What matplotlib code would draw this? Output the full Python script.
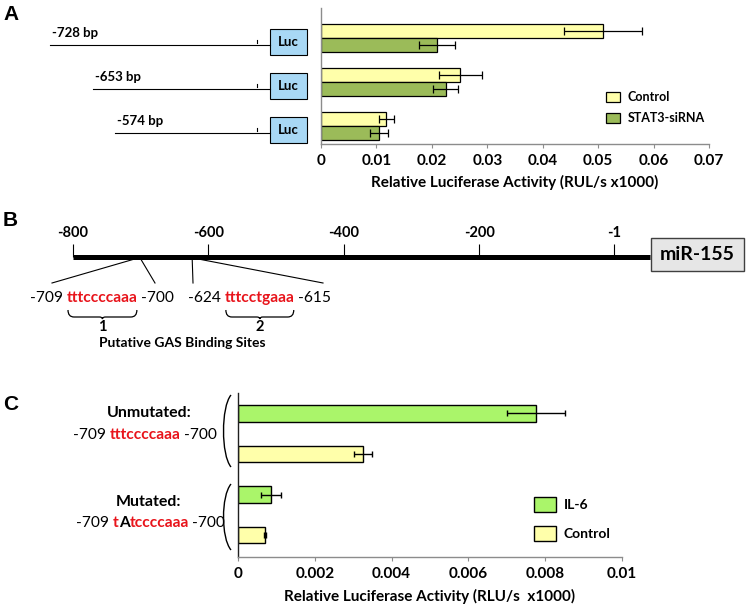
import matplotlib
matplotlib.use("Agg")
import matplotlib.pyplot as plt
from matplotlib.patches import Rectangle, PathPatch
from matplotlib.path import Path
import numpy as np

plt.rcParams["font.family"] = ["Lato", "DejaVu Sans"]

W, H = 748, 607

# ---- panel A: promoter deletion constructs
a_constructs  = ["-728 bp", "-653 bp", "-574 bp"]
a_series      = ["Control", "STAT3-siRNA"]
a_control     = [0.0509, 0.0251, 0.0118]
a_control_err = [0.0070, 0.0039, 0.0013]
a_sirna       = [0.0209, 0.0225, 0.0105]
a_sirna_err   = [0.0033, 0.0023, 0.0016]
a_ticks       = [0, 0.01, 0.02, 0.03, 0.04, 0.05, 0.06, 0.07]

# ---- panel B: promoter map
b_ticks = [-800, -600, -400, -200, -1]
b_sites = [(-709, -700, "tttccccaaa"), (-624, -615, "tttcctgaaa")]
b_site_names = ["1", "2"]

# ---- panel C: GAS site mutation
c_groups      = ["Unmutated:", "Mutated:"]
c_series      = ["IL-6", "Control"]
c_il6         = [0.00776, 0.00086]
c_il6_err     = [0.00076, 0.00025]
c_control     = [0.00326, 0.00070]
c_control_err = [0.00024, 0.00003]
c_ticks       = [0, 0.002, 0.004, 0.006, 0.008, 0.01]

YELLOW = "#FFFFAA"
OLIVE  = "#9BBB59"
LIME   = "#AAF56A"
BLUE   = "#A8D8F5"
RED    = "#E8141B"
GRAYSP = "#8C8C8C"
SEQ_FS = 11.2

fig = plt.figure(figsize=(W / 100, H / 100), dpi=100)


def px_axes(x0, y0, x1, y1, **kw):
    return fig.add_axes([x0 / W, 1 - y1 / H, (x1 - x0) / W, (y1 - y0) / H], **kw)


ov = fig.add_axes([0, 0, 1, 1], zorder=0)
ov.set_xlim(0, W)
ov.set_ylim(H, 0)
ov.axis("off")


def to_ov(ax, x, y):
    return ov.transData.inverted().transform(ax.transData.transform((x, y)))


def chain_text(x, y, parts, size):
    """parts: (text, color, weight, gap_px_before)"""
    arts = []
    t = None
    for s, c, w, gap in parts:
        if t is None:
            t = ov.text(x, y, s, color=c, fontweight=w, fontsize=size,
                        ha="left", va="center")
        else:
            t = ov.annotate(s, xy=(1, 0), xycoords=t, xytext=(gap * 0.72, 0),
                            textcoords="offset points", color=c, fontweight=w,
                            fontsize=size, ha="left", va="bottom")
        arts.append(t)
    return arts


def style_bar_axis(ax, ticks, left_color, fs):
    ax.set_facecolor("none")
    for s in ("top", "right"):
        ax.spines[s].set_visible(False)
    ax.spines["left"].set_color(left_color)
    ax.spines["bottom"].set_color(GRAYSP)
    ax.spines["left"].set_linewidth(1.0)
    ax.spines["bottom"].set_linewidth(1.0)
    ax.set_yticks([])
    ax.set_xticks(ticks)
    ax.set_xticklabels([f"{t:g}" for t in ticks], fontweight="bold", fontsize=fs)
    ax.tick_params(axis="x", length=3, width=0.8, color=GRAYSP, pad=4)


# ================= Panel A =================
axA = px_axes(321, 8, 709, 144, zorder=1)
ypos = np.arange(len(a_constructs))
h = 0.318
ekw = dict(ecolor="black", elinewidth=0.9, capsize=2.9, capthick=0.9)
axA.barh(ypos - h / 2, a_control, height=h, color=YELLOW, edgecolor="black",
         linewidth=0.9, xerr=a_control_err, error_kw=ekw, label=a_series[0])
axA.barh(ypos + h / 2, a_sirna, height=h, color=OLIVE, edgecolor="black",
         linewidth=0.9, xerr=a_sirna_err, error_kw=ekw, label=a_series[1])
axA.set_xlim(0, 0.07)
axA.set_ylim(2.41, -0.68)
style_bar_axis(axA, a_ticks, GRAYSP, 11)
axA.set_xlabel("Relative Luciferase Activity (RUL/s x1000)", fontweight="bold",
               fontsize=11, labelpad=5)
axA.legend(loc="upper left", bbox_to_anchor=(606 / W, 1 - 91 / H),
           bbox_transform=fig.transFigure, frameon=False,
           prop=dict(weight="bold", size=9), handlelength=1.1, handleheight=0.9,
           handletextpad=0.65, labelspacing=0.75, borderpad=0, borderaxespad=0)

# construct schematics
construct_x0 = [50, 93, 115]
for i, name in enumerate(a_constructs):
    yc = to_ov(axA, 0, ypos[i])[1]
    yb, yl = yc + 4, yc + 7
    ov.plot([construct_x0[i], 270], [yl, yl], color="black", lw=0.8)
    ov.plot([257, 257], [yl - 5, yl - 2], color="black", lw=0.8)
    ov.add_patch(Rectangle((270, yb - 13), 37, 26, facecolor=BLUE,
                           edgecolor="black", lw=0.8))
    ov.text(288.5, yb, "Luc", ha="center", va="center", fontweight="bold", fontsize=9.5)
    ov.text(construct_x0[i] + 2, yl - 12, name, ha="left", va="center",
            fontweight="bold", fontsize=9.5)

# ================= Panel B =================
axB = px_axes(73, 257, 650, 272, zorder=1)
axB.set_facecolor("none")
axB.set_xlim(-800, 52)
axB.set_ylim(0, 1)
for s in ("left", "right", "bottom"):
    axB.spines[s].set_visible(False)
axB.spines["top"].set_linewidth(3.6)
axB.spines["top"].set_capstyle("butt")
axB.xaxis.tick_top()
axB.set_xticks(b_ticks)
axB.set_xticklabels([str(t) for t in b_ticks], fontweight="bold", fontsize=10.5)
axB.tick_params(axis="x", length=9.4, width=0.8, pad=3)
axB.set_yticks([])

ov.add_patch(Rectangle((651, 238), 93, 33, facecolor="#E6E6E6",
                       edgecolor="#404040", lw=1.0))
ov.text(697, 255, "miR-155", ha="center", va="center", fontweight="bold", fontsize=14)

fan_x = [(52, 155), (193, 323)]
seq_x = [30, 188]
renderer = fig.canvas.get_renderer()
for (start, end, seq), (fx0, fx1), sx, nm in zip(b_sites, fan_x, seq_x, b_site_names):
    for bp, fx in ((start, fx0), (end, fx1)):
        px, _ = to_ov(axB, bp, 1)
        ov.plot([px, fx], [259, 283], color="black", lw=0.8)
    arts = chain_text(sx, 298, [(str(start), "black", "normal", 0),
                                (seq, RED, "bold", 4),
                                (str(end), "black", "normal", 3)], SEQ_FS)
    bb = arts[1].get_window_extent(renderer)
    (bx0, _), (bx1, _) = ov.transData.inverted().transform([[bb.x0, bb.y0], [bb.x1, bb.y0]])
    bx0, bx1 = bx0 + 1, bx1 - 1
    xm, yt = (bx0 + bx1) / 2, 310
    verts = [(bx0, yt), (bx0, yt + 7), (bx0 + 6, yt + 7), (xm - 3, yt + 7),
             (xm, yt + 7), (xm, yt + 9), (xm, yt + 7), (xm + 3, yt + 7),
             (bx1 - 6, yt + 7), (bx1, yt + 7), (bx1, yt)]
    codes = [Path.MOVETO, Path.CURVE3, Path.CURVE3, Path.LINETO, Path.CURVE3,
             Path.CURVE3, Path.CURVE3, Path.CURVE3, Path.LINETO, Path.CURVE3, Path.CURVE3]
    ov.add_patch(PathPatch(Path(verts, codes), facecolor="none", edgecolor="black", lw=0.9))
    ov.text(xm, 327, nm, ha="center", va="center", fontweight="bold", fontsize=10.5)
ov.text(182, 343, "Putative GAS Binding Sites", ha="center", va="center",
        fontweight="bold", fontsize=10)

# ================= Panel C =================
axC = px_axes(238, 393, 622, 557, zorder=1)
bh = 0.41
ekw_c = dict(ecolor="black", elinewidth=1.0, capsize=2.5, capthick=1.0)
ng = len(c_groups)
axC.barh(np.arange(ng) * 2, c_il6, height=bh, color=LIME, edgecolor="black",
         linewidth=1.0, xerr=c_il6_err, error_kw=ekw_c, label=c_series[0])
axC.barh(np.arange(ng) * 2 + 1, c_control, height=bh, color=YELLOW, edgecolor="black",
         linewidth=1.0, xerr=c_control_err, error_kw=ekw_c, label=c_series[1])
axC.set_xlim(0, 0.01)
axC.set_ylim(3.543, -0.506)
style_bar_axis(axC, c_ticks, "#202020", 11)
axC.set_xlabel("Relative Luciferase Activity (RLU/s  x1000)", fontweight="bold",
               fontsize=11, labelpad=6)
axC.legend(loc="upper left", bbox_to_anchor=(534 / W, 1 - 497 / H),
           bbox_transform=fig.transFigure, frameon=False,
           prop=dict(weight="bold", size=10), handlelength=1.58, handleheight=1.3,
           handletextpad=0.58, labelspacing=1.0, borderpad=0, borderaxespad=0)

# group labels
ov.text(149, 413, c_groups[0], ha="center", va="center", fontweight="bold", fontsize=11.5)
chain_text(73, 435, [("-709", "black", "normal", 0), ("tttccccaaa", RED, "bold", 4),
                     ("-700", "black", "normal", 3)], SEQ_FS)
ov.text(149, 502, c_groups[1], ha="center", va="center", fontweight="bold", fontsize=11.5)
chain_text(76, 523, [("-709", "black", "normal", 0), ("t", RED, "bold", 4),
                     ("A", "black", "bold", 0), ("tccccaaa", RED, "bold", 0),
                     ("-700", "black", "normal", 3)], SEQ_FS)

for y0, y1 in ((395, 467), (484, 550)):
    verts = [(231, y0), (221, y0 + 12), (221, y1 - 12), (231, y1)]
    ov.add_patch(PathPatch(Path(verts, [Path.MOVETO, Path.CURVE4, Path.CURVE4, Path.CURVE4]),
                           facecolor="none", edgecolor="black", lw=1.0))

# panel letters
for letter, yy in (("A", 15), ("B", 220), ("C", 404)):
    ov.text(3, yy, letter, ha="left", va="center", fontweight="bold", fontsize=15,
            family=["Liberation Sans", "DejaVu Sans"])

fig.savefig("out.png", dpi=100)
